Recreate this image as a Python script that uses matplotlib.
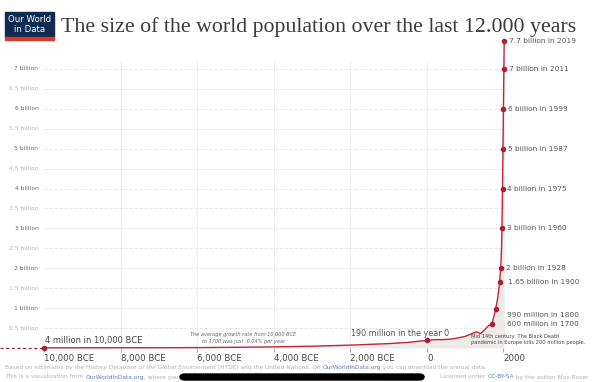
import matplotlib
matplotlib.use("Agg")
import matplotlib.pyplot as plt
from matplotlib.patches import Rectangle, FancyBboxPatch

# world population (billions) - line from the HYDE estimates
years = [-10000, -9000, -8000, -7000, -6000, -5000, -4000, -3000, -2000, -1000, -500,
         0, 200, 400, 600, 800, 1000, 1100, 1200, 1250, 1300, 1340, 1400, 1500, 1600,
         1700, 1750, 1800, 1850, 1900, 1928, 1950, 1960, 1975, 1987, 1999, 2011, 2019]
pop = [0.004, 0.005, 0.006, 0.007, 0.010, 0.018, 0.028, 0.045, 0.072, 0.11, 0.14,
       0.19, 0.21, 0.21, 0.22, 0.25, 0.29, 0.33, 0.37, 0.39, 0.40, 0.39, 0.36, 0.45, 0.55,
       0.60, 0.79, 0.99, 1.26, 1.65, 2.0, 2.5, 3.0, 4.0, 5.0, 6.0, 7.0, 7.7]

# highlighted points and their labels
mark_years = [-10000, 0, 1700, 1800, 1900, 1928, 1960, 1975, 1987, 1999, 2011, 2019]
mark_pop = [0.004, 0.19, 0.60, 0.99, 1.65, 2.0, 3.0, 4.0, 5.0, 6.0, 7.0, 7.7]
mark_labels = ["4 million in 10,000 BCE", "190 million in the year 0",
               "600 million in 1700", "990 million in 1800", "1.65 billion in 1900",
               "2 billion in 1928", "3 billion in 1960", "4 billion in 1975",
               "5 billion in 1987", "6 billion in 1999", "7 billion in 2011",
               "7.7 billion in 2019"]

xticks = [-10000, -8000, -6000, -4000, -2000, 0, 2000]
xlabels = ["10,000 BCE", "8,000 BCE", "6,000 BCE", "4,000 BCE", "2,000 BCE", "0", "2000"]
ygrid = [0.5, 1, 1.5, 2, 2.5, 3, 3.5, 4, 4.5, 5, 5.5, 6, 6.5, 7]
ylabels = ["0.5 billion", "1 billion", "1.5 billion", "2 billion", "2.5 billion",
           "3 billion", "3.5 billion", "4 billion", "4.5 billion", "5 billion",
           "5.5 billion", "6 billion", "6.5 billion", "7 billion"]

RED = "#be2639"
W, H = 600, 382
fig = plt.figure(figsize=(6, 3.82), dpi=100)
ax = fig.add_axes([0, 1 - 348 / H, 505 / W, (348 - 41) / H])
ax.set_xlim(-11150, 2040)
ax.set_ylim(0, 7.7)
for s in ax.spines.values():
    s.set_visible(False)
ax.set_yticks([])

# grid
ax.hlines(ygrid, -10000, 2000, color="#e4e4e4", lw=0.6, linestyles=(0, (4, 2)), zorder=0)
ax.vlines(xticks[1:], 0, 7.2, color="#ececec", lw=0.6, zorder=0)
ax.axhline(0, xmin=0.085, xmax=0.99, color="#999999", lw=0.6, zorder=1)

for v, lab in zip(ygrid, ylabels):
    col = "#666666" if float(v).is_integer() else "#b5b5b5"
    ax.annotate(lab, (-10000, v), xytext=(-4, 0), textcoords="offset points",
                ha="right", va="center", fontsize=4.3, color=col, annotation_clip=False)

# curve
ax.fill_between(years, pop, 0, color="#eeeaea", zorder=1, lw=0)
ax.plot(years, pop, color=RED, lw=1.0, zorder=3, clip_on=False)
ax.plot([-11150, years[0]], [pop[0], pop[0]], color="#8a2a35", lw=0.9,
        ls=(0, (2.5, 2)), zorder=3, clip_on=False)
ax.scatter(mark_years, mark_pop, s=9, color="#b01e33", zorder=4, clip_on=False)

offsets = {
    -10000: (1, 5, "left", 6.0, "#444444"),
    0: (-19, 5, "center", 5.8, "#555555"),
    1700: (11, 0, "left", 5.3, "#555555"),
    1800: (8, -5, "left", 5.3, "#555555"),
    1900: (6, 0, "left", 5.3, "#555555"),
}
for yr, p, lab in zip(mark_years, mark_pop, mark_labels):
    dx, dy, ha, fs, col = offsets.get(yr, (3.5, 0, "left", 5.3, "#555555"))
    ax.annotate(lab, (yr, p), xytext=(dx, dy), textcoords="offset points",
                ha=ha, va="center", fontsize=fs, color=col, annotation_clip=False)

ax.text(-4800, 0.25, "The average growth rate from 10,000 BCE\nto 1700 was just  0.04% per year",
        ha="center", va="center", fontsize=3.6, style="italic", color="#666666",
        linespacing=1.3)
ax.text(1150, 0.22, "Mid 14th century: The Black Death\npandemic in Europe kills 200 million people.",
        ha="left", va="center", fontsize=3.7, color="#444444", linespacing=1.3)

ax.set_xticks(xticks)
ax.set_xticklabels(xlabels, ha="left", fontsize=6.2, color="#444444")
ax.tick_params(axis="x", length=3, width=0.6, color="#999999", pad=1.5)

# logo
fig.patches.append(Rectangle((5 / W, 1 - 37 / H), 49 / W, 25 / H, transform=fig.transFigure,
                             color="#0f2b52", zorder=5))
fig.patches.append(Rectangle((5 / W, 1 - 40 / H), 49 / W, 3 / H, transform=fig.transFigure,
                             color="#d73a2a", zorder=5))
fig.text(29.5 / W, 1 - 19 / H, "Our World", color="white", fontsize=6.2, ha="center",
         va="center", zorder=6)
fig.text(29.5 / W, 1 - 29.5 / H, "in Data", color="white", fontsize=6.2, ha="center",
         va="center", zorder=6)

# title, fitted to the reference width
title = fig.text(61 / W, 1 - 32 / H, "The size of the world population over the last 12.000 years",
                 family="Liberation Serif", fontsize=16, color="#3c3c3c", ha="left",
                 va="baseline")
fig.canvas.draw()
r = fig.canvas.get_renderer()
w = title.get_window_extent(r).width
title.set_fontsize(16 * 515 / w)

# footer, written in pieces
def pieces(x, y, parts, size=4.2):
    for txt, kw in parts:
        t = fig.text(x / W, 1 - y / H, txt, fontsize=size, va="center", ha="left", **kw)
        x += t.get_window_extent(r).width

GREY = {"color": "#b0b0b0"}
ITAL = {"color": "#b0b0b0", "style": "italic"}
BLUE = {"color": "#5b7db8"}
pieces(5, 367, [("Based on estimates by the ", GREY),
                ("History Database of the Global Environment", ITAL),
                (" (HYDE) and the United Nations. On ", GREY),
                ("OurWorldInData.org", BLUE),
                (" you can download the annual data.", GREY)])
pieces(5, 377, [("This is a visualization from ", GREY),
                ("OurWorldInData.org", BLUE),
                (", where you", GREY)])
pieces(440, 377, [("Licensed under ", GREY), ("CC-BY-SA", BLUE),
                  (" by the author Max Roser", GREY)])
fig.patches.append(FancyBboxPatch((180 / W, 1 - 380 / H), 244 / W, 6 / H,
                                  boxstyle="round,pad=0,rounding_size=0.008",
                                  transform=fig.transFigure, color="black", zorder=5))

fig.savefig("out.png", dpi=100)
